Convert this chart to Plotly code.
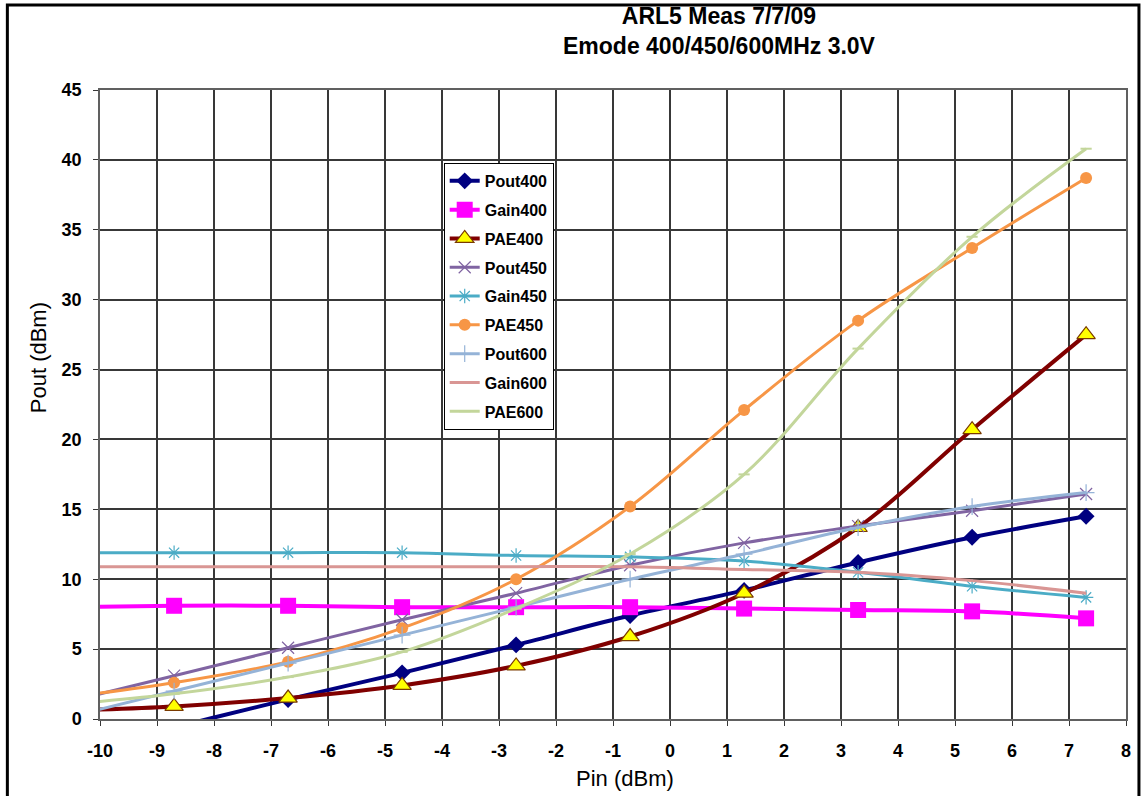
import plotly.graph_objects as go

pin = [-10.7, -8.7, -6.7, -4.7, -2.7, -0.7, 1.3, 3.3, 5.3, 7.3]

pout400 = [-2.6, -0.6, 1.4, 3.3, 5.3, 7.4, 9.2, 11.2, 13.0, 14.5]
gain400 = [8.0, 8.1, 8.1, 8.0, 8.0, 8.0, 7.9, 7.8, 7.7, 7.2]
pae400 = [0.6, 0.9, 1.5, 2.4, 3.8, 5.9, 9.0, 13.7, 20.7, 27.5]
pout450 = [1.1, 3.1, 5.1, 7.1, 9.0, 11.0, 12.6, 13.8, 14.9, 16.1]
gain450 = [11.9, 11.9, 11.9, 11.9, 11.7, 11.6, 11.3, 10.5, 9.5, 8.7]
pae450 = [1.5, 2.6, 4.1, 6.5, 10.0, 15.2, 22.1, 28.5, 33.7, 38.7]
pout600 = [0.0, 2.0, 4.0, 6.0, 8.0, 10.0, 11.8, 13.7, 15.2, 16.2]
gain600 = [10.9, 10.9, 10.9, 10.9, 10.9, 10.9, 10.7, 10.5, 9.9, 9.0]
pae600 = [1.0, 1.8, 3.0, 4.8, 7.9, 11.8, 17.5, 26.5, 34.5, 40.8]

x_ticks = list(range(-10, 9))
y_ticks = list(range(0, 46, 5))

series = [
    ("Pout400", pout400, "#000080", 4, dict(symbol="diamond", size=13, color="#000080")),
    ("Gain400", gain400, "#FF00FF", 4, dict(symbol="square", size=16, color="#FF00FF")),
    ("PAE400", pae400, "#800000", 4, dict(symbol="triangle-up", size=16, color="#FFFF00",
                                           line=dict(color="#7A3A00", width=1.2))),
    ("Pout450", pout450, "#8064A2", 3, dict(symbol="x-thin", size=12, color="#8064A2",
                                            line=dict(color="#8064A2", width=1.2))),
    ("Gain450", gain450, "#4BACC6", 3, dict(symbol="asterisk", size=12, color="#4BACC6",
                                            line=dict(color="#4BACC6", width=1.2))),
    ("PAE450", pae450, "#F79646", 3, dict(symbol="circle", size=12, color="#F79646")),
    ("Pout600", pout600, "#95B3D7", 3, dict(symbol="cross-thin", size=12, color="#95B3D7",
                                            line=dict(color="#95B3D7", width=1.2))),
    ("Gain600", gain600, "#D99694", 3, dict(symbol="circle", size=1, color="#D99694")),
    ("PAE600", pae600, "#C3D69B", 3, dict(symbol="line-ew", size=8, color="#C3D69B",
                                          line=dict(color="#C3D69B", width=2))),
]

fig = go.Figure()
for i, (name, vals, col, w, mk) in enumerate(series):
    fig.add_trace(go.Scatter(
        x=pin, y=vals, name=name, mode="lines+markers",
        line=dict(color=col, width=w, shape="spline", smoothing=1),
        marker=mk, legendgroup=f"g{i}",
    ))

fig.update_layout(
    width=1143, height=796,
    margin=dict(l=100, r=13, t=90, b=77),
    paper_bgcolor="white", plot_bgcolor="white",
    font=dict(family="Liberation Sans, Arial, sans-serif", color="black"),
    showlegend=True,
    legend=dict(
        x=0.335, y=0.884, xanchor="left", yanchor="top",
        bgcolor="white", bordercolor="black", borderwidth=1,
        font=dict(size=16, family="Liberation Sans, Arial", color="black", weight="bold"),
        traceorder="grouped", tracegroupgap=5, itemwidth=30,
    ),
    xaxis=dict(
        range=[-10, 8], tickvals=x_ticks, ticktext=[str(v) for v in x_ticks],
        showgrid=True, gridcolor="#383838", gridwidth=1.5, zeroline=False,
        showline=True, linecolor="#606060", linewidth=1.5, mirror=True,
        ticks="outside", ticklen=5, tickcolor="#383838", ticklabelstandoff=10,
        tickfont=dict(size=18, weight="bold", color="black"),
    ),
    yaxis=dict(
        range=[0, 45], tickvals=y_ticks, ticktext=[str(v) for v in y_ticks],
        showgrid=True, gridcolor="#383838", gridwidth=1.5, zeroline=False,
        showline=True, linecolor="#606060", linewidth=1.5, mirror=True,
        ticks="outside", ticklen=5, tickcolor="#383838", ticklabelstandoff=8,
        tickfont=dict(size=18, weight="bold", color="black"),
    ),
    annotations=[
        dict(text="<b>ARL5 Meas 7/7/09<br>Emode 400/450/600MHz 3.0V</b>",
             xref="paper", yref="paper", x=(722 - 100) / 1030, y=(719 - 31) / 629,
             xanchor="center", yanchor="middle", showarrow=False,
             font=dict(size=23, color="black")),
        dict(text="Pin (dBm)", xref="paper", yref="paper",
             x=(627 - 100) / 1030, y=(719 - 778) / 629,
             xanchor="center", yanchor="middle", showarrow=False,
             font=dict(size=22, color="black")),
        dict(text="Pout (dBm)", xref="paper", yref="paper",
             x=(38 - 100) / 1030, y=(719 - 358) / 629, textangle=-90,
             xanchor="center", yanchor="middle", showarrow=False,
             font=dict(size=22, color="black")),
    ],
    shapes=[
        dict(type="rect", xref="paper", yref="paper",
             x0=(7 - 100) / 1030, x1=(1143 - 100) / 1030,
             y0=(719 - 805) / 629, y1=(719 - 5) / 629,
             line=dict(color="black", width=3), fillcolor="rgba(0,0,0,0)", layer="below"),
    ],
)

fig.write_html("out.html")
